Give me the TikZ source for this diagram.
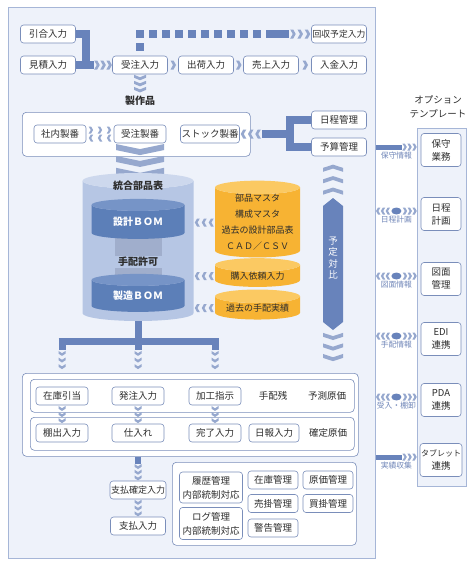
\documentclass[tikz,border=0pt]{standalone}
\usepackage{fontspec}
\setmainfont{Noto Sans CJK JP}
\usetikzlibrary{arrows.meta,calc,positioning,shapes.geometric,decorations.markings}
\definecolor{panelblue}{RGB}{238,242,250}
\definecolor{panelline}{RGB}{166,182,215}
\definecolor{boxline}{RGB}{122,142,186}
\definecolor{flowblue}{RGB}{104,131,187}
\definecolor{chevblue}{RGB}{150,168,206}
\definecolor{cylpale}{RGB}{182,198,228}
\definecolor{cylpaletop}{RGB}{205,216,237}
\definecolor{cyldark}{RGB}{92,127,184}
\definecolor{cyldarktop}{RGB}{118,148,199}
\definecolor{bandgrey}{RGB}{160,174,204}
\definecolor{masterorange}{RGB}{247,179,51}
\definecolor{mastertop}{RGB}{251,201,98}
\definecolor{labelblue}{RGB}{112,134,184}
\definecolor{textdark}{RGB}{45,45,45}
\tikzset{
  panel/.style={draw=panelline,fill=panelblue,line width=0.8pt,anchor=north west,
    inner sep=0pt},
  group/.style={draw=boxline,fill=white,rounded corners=4pt,line width=0.6pt,
    anchor=north west,inner sep=0pt},
  entry/.style={draw=boxline,fill=white,rounded corners=3pt,line width=0.6pt,
    minimum width=52pt,minimum height=18pt,inner sep=1pt,text=textdark,
    font=\fontsize{9.5}{14}\selectfont},
  topentry/.style={entry,minimum width=55pt},
  optbox/.style={entry,minimum width=40pt,minimum height=33pt,align=center,
    font=\fontsize{9.5}{13}\selectfont},
  plain/.style={text=textdark,inner sep=1pt,font=\fontsize{9.5}{11}\selectfont},
  infolabel/.style={text=labelblue,inner sep=1pt,font=\fontsize{7.8}{9}\selectfont},
  bar/.style={draw=flowblue,line width=8pt},
  thinbar/.style={draw=flowblue,line width=5pt},
  chevrons/.style 2 args={decoration={markings,
      mark=between positions 0.16 and 0.95 step 0.33 with
        {\fill[chevblue,xscale=#2,yscale=#1] (-2.5,-1) -- (0.5,-1) -- (3,0)
          -- (0.5,1) -- (-2.5,1) -- (0,0) -- cycle;}},decorate},
  onechev/.style={decoration={markings,mark=at position 0.5 with
        {\fill[chevblue,yscale=4.5] (-2.5,-1) -- (0.5,-1) -- (3,0)
          -- (0.5,1) -- (-2.5,1) -- (0,0) -- cycle;}},decorate},
  smallchevs/.style={chevrons={3.5}{0.8}},
  beads/.style={chevrons={3.5}{0.9}},
  dbcyl/.style={cylinder,shape border rotate=90,draw=none,inner sep=0pt,
    align=center,cylinder uses custom fill},
  bomcyl/.style={dbcyl,cylinder body fill=cyldark,cylinder end fill=cyldarktop,
    text width=80pt,aspect=0.15,minimum width=93pt,text=white,
    font=\bfseries\fontsize{10}{12}\selectfont},
  mastercyl/.style={dbcyl,cylinder body fill=masterorange,cylinder end fill=mastertop,
    text width=75pt,aspect=0.18,minimum width=85pt,text=textdark,
    font=\fontsize{9}{16}\selectfont}
}
\begin{document}
\begin{tikzpicture}[x=1pt,y=-1pt]
  \useasboundingbox (0,0) rectangle (474,565);
  \node[panel,minimum width=367pt,minimum height=551pt] (main) at (8,7) {};
  \node[panel,minimum width=49pt,minimum height=358pt] (opt) at (417,128) {};
  \node[align=center,text=textdark,font=\fontsize{9.5}{14}\selectfont] (opttitle)
    at (438,107) {オプション\\テンプレート};

  % order and sales flow
  \node[topentry] (hikiai) at (48,34) {引合入力};
  \node[topentry] (mitsumori) at (48,65) {見積入力};
  \node[topentry] (juchu) at (140,65) {受注入力};
  \node[topentry] (shukka) at (206,65) {出荷入力};
  \node[topentry] (uriage) at (271,65) {売上入力};
  \node[topentry] (nyukin) at (339,65) {入金入力};
  \node[topentry,font=\fontsize{8.8}{10}\selectfont] (kaishu) at (339,34) {回収予定入力};
  \coordinate (merge) at ($(mitsumori.east)+(10,0)$);
  \draw[bar] (hikiai.east) -| (merge) -- (mitsumori.east);
  \draw[bar] (mitsumori.east) -- ($(merge)+(8,0)$);
  \path[chevrons={4.5}{1}] ($(merge)+(8,0)$) -- (juchu.west);
  \foreach \a/\b in {juchu/shukka,shukka/uriage,uriage/nyukin}
    \path[onechev] (\a.east) -- (\b.west);
  \coordinate (dashturn) at (juchu.north |- kaishu.west);
  \draw[bar,dash pattern=on 8pt off 5pt] ($(dashturn)+(0,-4)$) -- (juchu.north);
  \draw[bar,dash pattern=on 8pt off 5pt] ($(dashturn)+(9,0)$)
    -- ($(kaishu.west)+(-40,0)$);
  \draw[bar] ($(kaishu.west)+(-40,0)$) -- ($(kaishu.west)+(-22,0)$);
  \path[chevrons={4.5}{1}] ($(kaishu.west)+(-22,0)$) -- (kaishu.west);
  \node[text=textdark,font=\bfseries\fontsize{10}{12}\selectfont] (seisaku)
    at (140,101) {製作品};
  \path[chevrons={6}{1}] (juchu.south) -- (seisaku.north);

  % production numbers
  \node[group,minimum width=228pt,minimum height=44pt] (seiban) at (22,112) {};
  \node[entry] (shanai) at (60,134) {社内製番};
  \node[entry] (juchuban) at (140,134) {受注製番};
  \node[entry,minimum width=55pt] (stock) at (210,134) {ストック製番};
  \node[topentry] (nittei) at (339,120) {日程管理};
  \node[topentry] (yosan) at (339,147) {予算管理};
  \path[smallchevs] ($(shanai.east)+(0,-4)$) -- ($(juchuban.west)+(0,-4)$);
  \path[smallchevs] ($(juchuban.west)+(0,4)$) -- ($(shanai.east)+(0,4)$);
  \coordinate (fork) at (290,134);
  \draw[bar] (nittei.west) -| (fork) |- (yosan.west);
  \draw[bar] (fork) -- ($(stock.east)+(22,0)$);
  \path[chevrons={4.5}{1}] ($(stock.east)+(22,0)$) -- (stock.east);
  \path[chevrons={24}{2}] (juchuban.south) -- ($(juchuban.south)+(0,36)$);

  % integrated parts list
  \node[dbcyl,cylinder body fill=cylpale,cylinder end fill=cylpaletop,text width=104pt,
    aspect=0.15,minimum width=111pt,minimum height=148pt] (tougou) at (138,251) {};
  \node[text=textdark,font=\bfseries\fontsize{10}{12}\selectfont] (tougoulabel)
    at (138,186) {統合部品表};
  \fill[bandgrey] (115,238) rectangle (162,282);
  \node[bomcyl,minimum height=40pt] (sekkei) at (138,222) {設計ＢＯＭ};
  \node[bomcyl,minimum height=38pt] (seizou) at (138,296) {製造ＢＯＭ};
  \node[plain,fill=cylpale,minimum width=47pt,font=\bfseries\fontsize{10}{12}\selectfont]
    (kyoka) at (138,262) {手配許可};
  \node[mastercyl,minimum height=75pt] (master) at (257.5,222.5)
    {部品マスタ\\構成マスタ\\過去の設計部品表\\ＣＡＤ／ＣＳＶ};
  \node[mastercyl,minimum height=28pt] (kobai) at (257.5,276) {購入依頼入力};
  \node[mastercyl,minimum height=30pt] (kako) at (257.5,308) {過去の手配実績};
  \foreach \m in {master,kobai,kako}
    \path[chevrons={4}{0.9}] (\m.west) -- (\m.west -| tougou.east);

  % operations
  \node[group,minimum width=336pt,minimum height=83pt] (ops) at (22,373) {};
  \node[group,minimum width=324pt,minimum height=33pt] (plan) at (30,379) {};
  \node[group,minimum width=324pt,minimum height=33pt] (result) at (30,417) {};
  \node[entry] (zaiko) at (62,396) {在庫引当};
  \node[entry] (hatchu) at (138,396) {発注入力};
  \node[entry] (kakou) at (215,396) {加工指示};
  \node[plain] (tehaizan) at (273,396) {手配残};
  \node[plain] (yosoku) at (327,396) {予測原価};
  \node[entry] (tanade) at (62,433) {棚出入力};
  \node[entry] (shiire) at (138,433) {仕入れ};
  \node[entry] (kanryo) at (215,433) {完了入力};
  \node[entry,minimum width=50pt] (nippo) at (274,433) {日報入力};
  \node[plain] (kakutei) at (328,433) {確定原価};
  \foreach \a/\b in {zaiko/tanade,hatchu/shiire,kakou/kanryo}
    \path[beads] (\a.south) -- (\b.north);

  \coordinate (split) at (138,341);
  \draw[bar,line width=7pt] (tougou.south) -- (split);
  \draw[bar,line width=7pt] ($(split -| zaiko)+(-3.5,0)$) -- ($(split -| kakou)+(3.5,0)$);
  \foreach \n in {zaiko,hatchu,kakou} {
    \draw[bar,line width=7pt] (split -| \n) -- ($(split -| \n)+(0,9)$);
    \path[beads] ($(split -| \n)+(0,9)$) -- ($(split -| \n)+(0,29)$);
  }

  % plan versus actual
  \coordinate (taihitop) at (333,198);
  \coordinate (taihibot) at (333,330);
  \fill[flowblue] (taihitop) -- ++(10,8) -- ($(taihibot)+(10,-8)$) -- (taihibot)
    -- ($(taihibot)+(-10,-8)$) -- ($(taihitop)+(-10,8)$) -- cycle;
  \node[text=white,align=center,font=\fontsize{9.5}{11.5}\selectfont] (taihi)
    at (333,258) {予\\定\\対\\比};
  \path[chevrons={10}{1.3}] ($(taihitop)+(0,-1)$) -- ($(taihitop |- yosan.south)+(0,6)$);
  \path[chevrons={10}{1.3}] ($(taihibot)+(0,1)$) -- ($(taihibot |- ops.north)+(0,-10)$);

  % payment and management
  \node[entry,minimum width=55pt,font=\fontsize{9}{10}\selectfont] (kakuteinyu)
    at (138,490) {支払確定入力};
  \node[entry,minimum width=55pt] (shiharai) at (138,526) {支払入力};
  \draw[bar,line width=6pt] (kakuteinyu.north |- ops.south)
    -- ($(kakuteinyu.north |- ops.south)+(0,7)$);
  \path[beads] ($(kakuteinyu.north |- ops.south)+(0,7)$) -- (kakuteinyu.north);
  \path[beads] (kakuteinyu.south) -- (shiharai.north);
  \node[group,minimum width=184pt,minimum height=83pt] (kanri) at (172,462) {};
  \node[entry,minimum width=63pt,minimum height=31pt,align=center] (rireki)
    at (211,487.5) {履歴管理\\内部統制対応};
  \node[entry,minimum width=63pt,minimum height=32pt,align=center] (logkanri)
    at (211,523.5) {ログ管理\\内部統制対応};
  \node[entry,minimum width=50pt] (zaikokanri) at (273,480) {在庫管理};
  \node[entry,minimum width=50pt] (genka) at (328,480) {原価管理};
  \node[entry,minimum width=50pt] (urikake) at (273,503.5) {売掛管理};
  \node[entry,minimum width=50pt] (kaikake) at (328,503.5) {買掛管理};
  \node[entry,minimum width=50pt] (keikoku) at (273,528) {警告管理};

  % option templates
  \node[optbox] (hoshu) at (441,150) {保守\\業務};
  \node[optbox] (nitteikei) at (441,214) {日程\\計画};
  \node[optbox] (zumen) at (441,279) {図面\\管理};
  \node[optbox] (edi) at (441,339) {EDI\\連携};
  \node[optbox] (pda) at (441,400) {PDA\\連携};
  \node[optbox] (jisseki) at (441,460) {{\fontsize{8}{10}\selectfont タブレット}\\連携};
  \foreach \o/\info in {hoshu/保守情報,jisseki/実績収集} {
    \coordinate (lin) at ($(main.east |- \o)+(0,-3)$);
    \coordinate (lout) at ($(opt.west |- \o)+(0,-3)$);
    \draw[thinbar] (lin) -- ($(lout)+(-15,0)$);
    \path[smallchevs] ($(lout)+(-15,0)$) -- (lout);
    \path (lin) -- (lout) node[midway,below=4pt,infolabel] {\info};
  }
  \foreach \o/\info in {nitteikei/日程計画,zumen/図面情報,edi/手配情報,pda/受入・棚卸} {
    \coordinate (lin) at ($(main.east |- \o)+(0,-3)$);
    \coordinate (lout) at ($(opt.west |- \o)+(0,-3)$);
    \coordinate (hub) at ($(lin)!0.5!(lout)$);
    \path[smallchevs] ($(hub)+(-6,0)$) -- (lin);
    \path[smallchevs] ($(hub)+(6,0)$) -- (lout);
    \fill[flowblue] (hub) ellipse[x radius=5,y radius=3.5];
    \path (lin) -- (lout) node[midway,below=4pt,infolabel] {\info};
  }
\end{tikzpicture}
\end{document}
